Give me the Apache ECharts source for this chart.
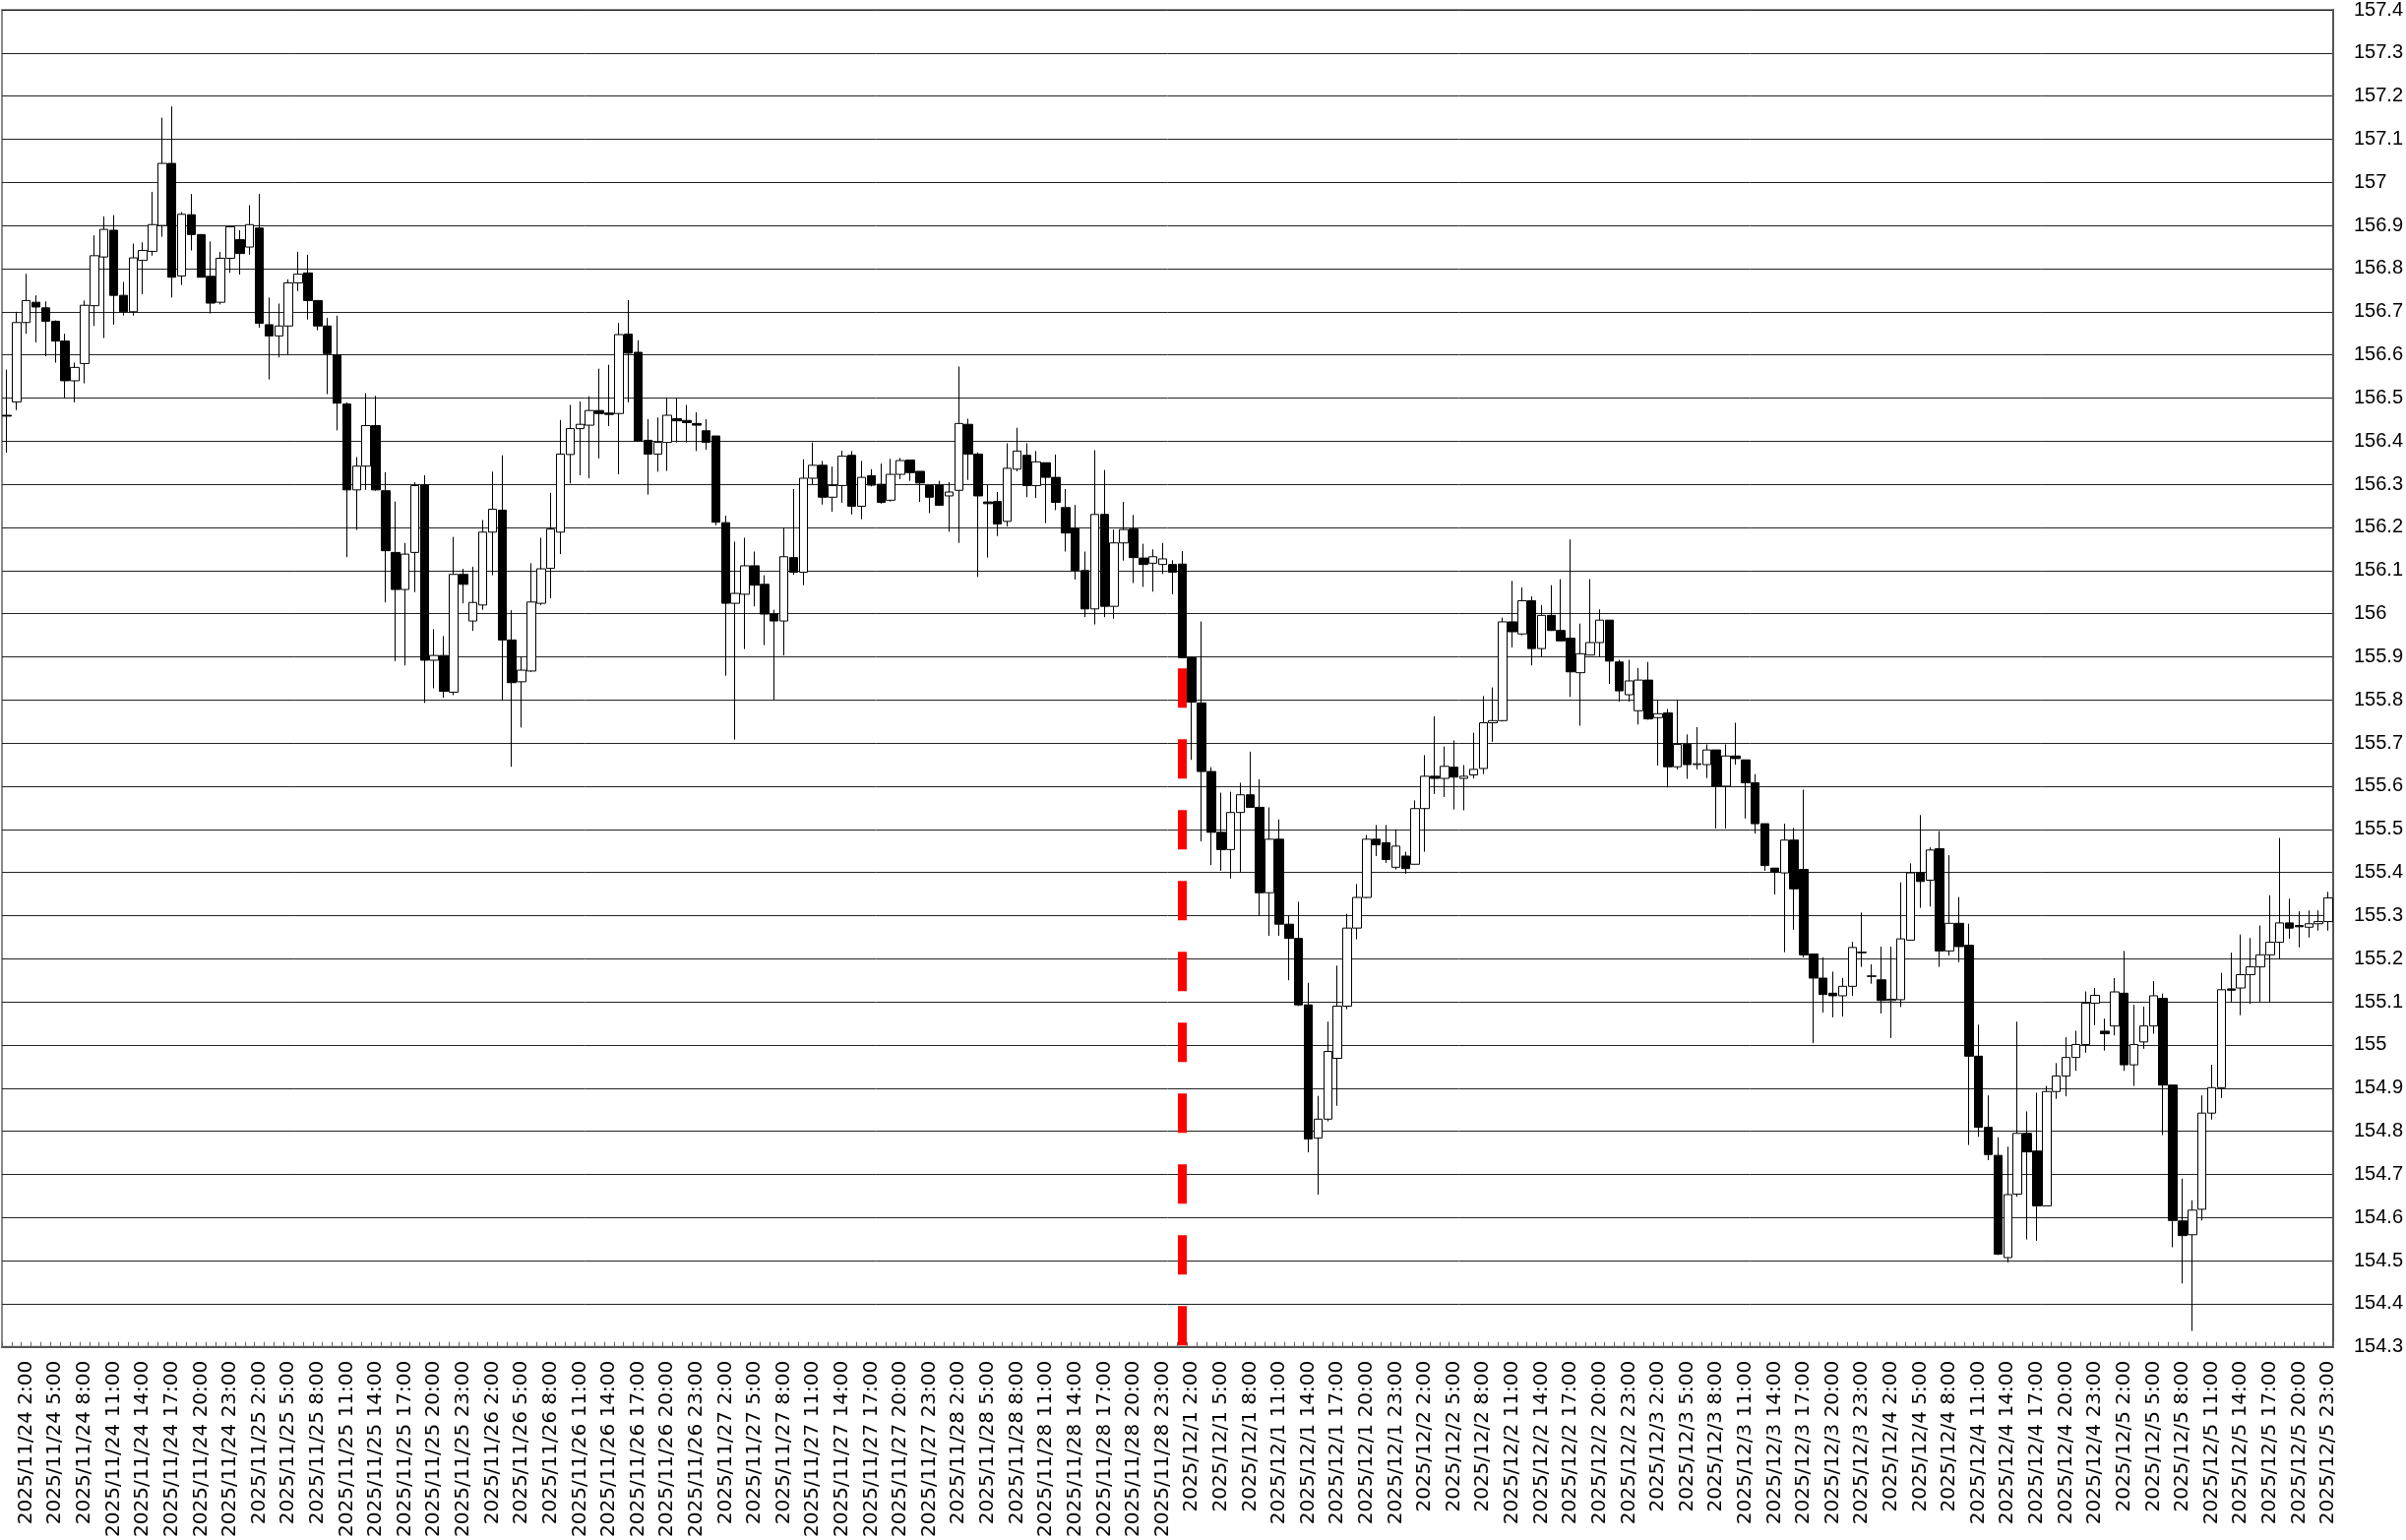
<!DOCTYPE html>
<html>
<head>
<meta charset="utf-8">
<script src="https://cdn.jsdelivr.net/npm/echarts@6/dist/echarts.min.js"></script>
<style>
html,body{margin:0;padding:0;background:#fff;}
#chart{width:2445px;height:1565px;}
</style>
</head>
<body>
<div id="chart"></div>
<script>
// Trading days (hourly candles 0:00-23:00 each day)
const days = ['2025/11/24','2025/11/25','2025/11/26','2025/11/27','2025/11/28',
              '2025/12/1','2025/12/2','2025/12/3','2025/12/4','2025/12/5'];
const hours = [0,1,2,3,4,5,6,7,8,9,10,11,12,13,14,15,16,17,18,19,20,21,22,23];

const openVals = [
156.460,156.491,156.675,156.722,156.709,156.678,156.632,156.540,156.580,156.714,
156.827,156.889,156.738,156.700,156.819,156.840,156.900,157.044,156.783,156.925,
156.879,156.782,156.722,156.824,156.867,156.850,156.894,156.670,156.644,156.667,
156.767,156.790,156.726,156.667,156.600,156.486,156.287,156.342,156.436,156.285,
156.142,156.056,156.142,156.299,155.892,155.903,155.818,156.091,155.983,156.020,
156.189,156.240,155.939,155.842,155.867,156.024,156.105,156.189,156.369,156.429,
156.437,156.471,156.465,156.464,156.648,156.606,156.402,156.370,156.397,156.452,
156.448,156.441,156.424,156.412,156.211,156.024,156.045,156.111,156.068,155.999,
155.983,156.130,156.096,156.314,156.344,156.270,156.297,156.367,156.249,156.320,
156.300,156.263,156.323,156.356,156.330,156.297,156.298,156.273,156.286,156.439,
156.370,156.259,156.260,156.214,156.335,156.367,156.297,156.350,156.316,156.246,
156.198,156.100,156.011,156.230,156.017,156.164,156.196,156.129,156.117,156.114,
156.114,156.115,155.898,155.793,155.634,155.493,155.453,155.539,155.580,155.551,
155.353,155.477,155.280,155.247,155.093,154.784,154.828,154.969,155.090,155.271,
155.342,155.477,155.469,155.412,155.438,155.419,155.548,155.623,155.618,155.644,
155.618,155.626,155.641,155.747,155.752,155.981,155.953,156.030,155.919,155.996,
155.961,155.943,155.863,155.904,155.933,155.985,155.888,155.812,155.775,155.846,
155.759,155.770,155.645,155.697,155.650,155.650,155.684,155.600,155.670,155.661,
155.608,155.513,155.410,155.399,155.475,155.407,155.211,155.155,155.120,155.114,
155.136,155.215,155.160,155.151,155.103,155.105,155.243,155.399,155.382,155.455,
155.218,155.282,155.231,154.974,154.809,154.744,154.507,154.654,154.795,154.754,
154.627,154.892,154.928,154.971,155.001,155.097,155.032,155.044,155.120,154.954,
155.007,155.044,155.108,154.907,154.592,154.560,154.619,154.842,154.901,155.130,
155.132,155.163,155.181,155.209,155.238,155.283,155.277,155.273,155.281,155.286
];
const closeVals = [
156.458,156.675,156.726,156.711,156.678,156.632,156.540,156.571,156.715,156.830,
156.891,156.738,156.700,156.825,156.842,156.902,157.044,156.780,156.926,156.879,
156.780,156.720,156.824,156.897,156.835,156.902,156.673,156.644,156.667,156.767,
156.787,156.726,156.667,156.603,156.488,156.287,156.342,156.436,156.287,156.146,
156.056,156.138,156.297,155.892,155.903,155.820,156.091,156.068,156.026,156.189,
156.242,155.939,155.840,155.869,156.027,156.104,156.196,156.370,156.429,156.439,
156.471,156.464,156.462,156.647,156.604,156.400,156.370,156.397,156.460,156.447,
156.443,156.437,156.397,156.212,156.024,156.047,156.111,156.066,155.999,155.983,
156.132,156.096,156.314,156.344,156.270,156.297,156.365,156.249,156.316,156.298,
156.258,156.323,156.355,156.327,156.303,156.270,156.251,156.282,156.441,156.370,
156.273,156.255,156.208,156.337,156.377,156.297,156.352,156.316,156.258,156.187,
156.100,156.011,156.230,156.017,156.164,156.195,156.130,156.114,156.132,156.127,
156.096,155.898,155.795,155.634,155.493,155.453,155.539,155.580,155.551,155.353,
155.477,155.280,155.247,155.093,154.782,154.828,154.985,155.090,155.271,155.342,
155.477,155.464,155.430,155.461,155.409,155.548,155.623,155.618,155.646,155.621,
155.623,155.639,155.747,155.752,155.981,155.958,156.030,155.919,155.996,155.961,
155.937,155.865,155.907,155.933,155.985,155.890,155.821,155.844,155.846,155.756,
155.768,155.645,155.697,155.650,155.652,155.684,155.600,155.670,155.664,155.608,
155.513,155.416,155.401,155.475,155.362,155.209,155.155,155.117,155.114,155.136,
155.226,155.214,155.159,155.103,155.106,155.246,155.399,155.379,155.452,155.218,
155.282,155.228,154.974,154.809,154.746,154.515,154.653,154.795,154.752,154.627,
154.892,154.928,154.971,155.001,155.097,155.115,155.026,155.123,154.954,155.001,
155.044,155.114,154.907,154.593,154.558,154.617,154.842,154.901,155.128,155.127,
155.163,155.181,155.209,155.238,155.283,155.271,155.274,155.281,155.286,155.341
];
const lowVals = [
156.373,156.472,156.649,156.629,156.597,156.582,156.500,156.490,156.534,156.667,
156.639,156.670,156.691,156.691,156.741,156.830,156.874,156.733,156.762,156.842,
156.780,156.696,156.717,156.790,156.786,156.832,156.663,156.543,156.594,156.599,
156.748,156.682,156.657,156.509,156.425,156.131,156.194,156.287,156.285,156.026,
155.890,155.880,156.050,155.793,155.827,155.805,155.811,156.024,155.960,156.009,
156.089,155.800,155.645,155.736,155.865,156.020,156.036,156.138,156.302,156.321,
156.314,156.360,156.435,156.323,156.490,156.400,156.276,156.329,156.331,156.397,
156.397,156.377,156.380,156.205,155.856,155.708,155.918,156.017,155.927,155.800,
155.903,156.090,156.066,156.300,156.253,156.236,156.257,156.230,156.219,156.295,
156.255,156.260,156.312,156.308,156.259,156.233,156.250,156.190,156.164,156.310,
156.085,156.130,156.180,156.202,156.330,156.270,156.268,156.210,156.240,156.144,
156.079,155.992,155.975,155.992,155.988,156.123,156.071,156.062,156.051,156.092,
156.045,155.898,155.661,155.472,155.417,155.404,155.386,155.400,155.550,155.299,
155.253,155.253,155.150,155.090,154.751,154.653,154.823,154.859,155.083,155.245,
155.340,155.438,155.422,155.407,155.397,155.418,155.448,155.582,155.575,155.546,
155.544,155.618,155.628,155.703,155.750,155.922,155.950,155.880,155.901,155.960,
155.937,155.807,155.740,155.904,155.900,155.837,155.796,155.796,155.743,155.754,
155.648,155.597,155.639,155.617,155.639,155.619,155.502,155.502,155.650,155.525,
155.490,155.404,155.349,155.215,155.267,155.203,155.004,155.075,155.064,155.066,
155.114,155.181,155.142,155.073,155.016,155.088,155.243,155.318,155.321,155.181,
155.207,155.192,154.768,154.787,154.733,154.513,154.496,154.648,154.549,154.546,
154.627,154.875,154.881,154.940,154.982,155.046,154.987,155.022,154.940,154.905,
154.991,155.026,154.791,154.531,154.447,154.337,154.593,154.827,154.877,155.100,
155.069,155.095,155.100,155.100,155.199,155.246,155.226,155.249,155.265,155.265
];
const highVals = [
156.566,156.700,156.788,156.738,156.724,156.680,156.649,156.582,156.726,156.877,
156.921,156.924,156.769,156.858,156.861,156.978,157.150,157.176,156.931,156.973,
156.880,156.863,156.839,156.897,156.889,156.947,156.973,156.733,156.719,156.775,
156.839,156.832,156.727,156.686,156.691,156.490,156.363,156.511,156.505,156.328,
156.260,156.164,156.305,156.321,155.964,155.948,156.178,156.104,156.109,156.217,
156.329,156.367,156.008,155.900,156.117,156.176,156.280,156.449,156.484,156.492,
156.504,156.568,156.577,156.674,156.727,156.634,156.451,156.455,156.500,156.500,
156.484,156.467,156.451,156.412,156.227,156.167,156.176,156.144,156.089,156.009,
156.198,156.289,156.358,156.397,156.354,156.341,156.378,156.377,156.354,156.335,
156.348,156.359,156.361,156.356,156.330,156.297,156.308,156.305,156.573,156.452,
156.374,156.298,156.282,156.395,156.431,156.395,156.377,156.350,156.369,156.289,
156.252,156.144,156.379,156.333,156.195,156.259,156.229,156.162,156.149,156.164,
156.124,156.145,155.900,155.982,155.644,155.585,155.587,155.608,155.680,155.616,
155.551,155.523,155.299,155.332,155.144,154.882,155.054,155.184,155.304,155.373,
155.487,155.510,155.510,155.500,155.448,155.567,155.672,155.762,155.692,155.706,
155.649,155.724,155.809,155.829,155.991,156.076,156.061,156.040,156.020,156.066,
156.080,156.172,155.977,156.080,156.010,155.985,155.893,155.893,155.874,155.888,
155.800,155.779,155.800,155.720,155.737,155.697,155.684,155.697,155.747,155.661,
155.628,155.513,155.410,155.513,155.503,155.592,155.211,155.203,155.170,155.155,
155.239,155.307,155.187,155.228,155.228,155.377,155.421,155.533,155.458,155.496,
155.440,155.343,155.281,155.047,154.883,154.786,154.764,155.054,154.846,154.889,
154.905,154.958,155.018,155.033,155.124,155.132,155.061,155.155,155.218,155.093,
155.089,155.148,155.119,154.907,154.690,154.640,154.883,154.954,155.167,155.214,
155.256,155.248,155.277,155.347,155.480,155.339,155.310,155.312,155.312,155.355
];

const yMin = 154.3, yMax = 157.4, yStep = 0.1;
const markerIndex = 121;      // red dashed marker candle
const markerTop = 155.873;    // where the red dashed marker starts

const categories = [];
days.forEach(d => hours.forEach(h => categories.push(d + ' ' + h + ':00')));

const ohlc = openVals.map((o, i) => [o, closeVals[i], lowVals[i], highVals[i]]);

const chart = echarts.init(document.getElementById('chart'), null, {renderer: 'canvas'});
chart.setOption({
  animation: false,
  backgroundColor: '#ffffff',
  grid: {left: 2, right: 73, top: 9, bottom: 194, show: true, borderColor: '#888', borderWidth: 2, containLabel: false},
  xAxis: {
    type: 'category',
    data: categories,
    boundaryGap: true,
    axisLine: {show: true, lineStyle: {color: '#555', width: 2}},
    axisTick: {show: true, inside: true, length: 5, interval: 0, lineStyle: {color: '#666', width: 1}},
    axisLabel: {
      rotate: 90,
      interval: (idx) => idx % 3 === 2,
      fontSize: 20,
      fontFamily: 'DejaVu Sans',
      color: '#000',
      margin: 14
    },
    splitLine: {show: false}
  },
  yAxis: {
    type: 'value',
    position: 'right',
    min: yMin, max: yMax, interval: yStep,
    scale: true,
    axisLine: {show: true, lineStyle: {color: '#555', width: 2}},
    axisTick: {show: false},
    axisLabel: {
      fontSize: 20, fontFamily: 'Liberation Sans, Arial, sans-serif', color: '#000', margin: 21,
      formatter: v => String(+v.toFixed(1))
    },
    splitLine: {show: true, lineStyle: {color: '#222', width: 1}}
  },
  series: [{
    type: 'candlestick',
    data: ohlc,
    barWidth: 9,
    itemStyle: {
      color: '#ffffff', color0: '#000000',
      borderColor: '#000000', borderColor0: '#000000',
      borderWidth: 1
    },
    markLine: {
      silent: true,
      symbol: ['none', 'none'],
      label: {show: false},
      lineStyle: {color: '#ff0000', width: 9, type: [40, 32], opacity: 1},
      data: [[
        {coord: [categories[markerIndex], markerTop]},
        {coord: [categories[markerIndex], yMin]}
      ]]
    }
  }]
});
</script>
</body>
</html>
